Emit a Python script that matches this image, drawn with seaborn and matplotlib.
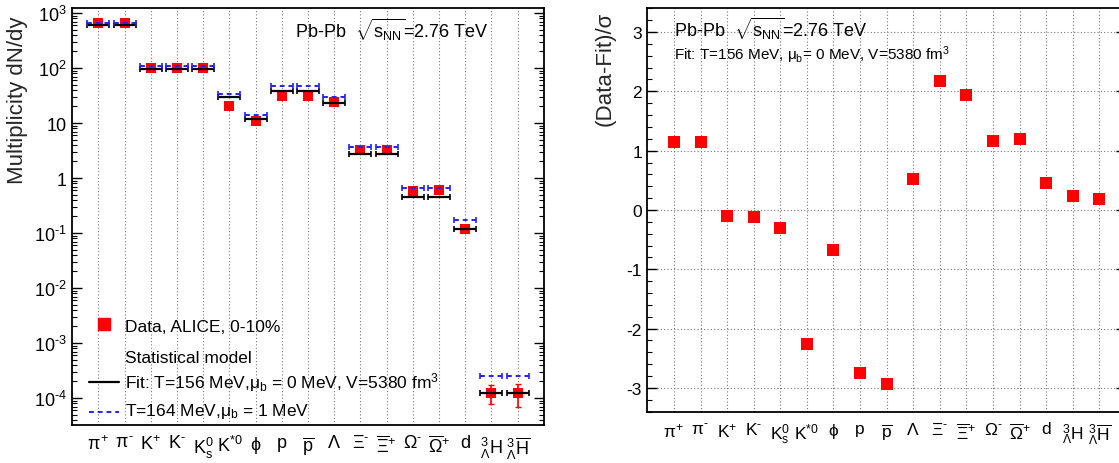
import numpy as np
import pandas as pd
import matplotlib
matplotlib.use("Agg")
import matplotlib.pyplot as plt
from matplotlib.lines import Line2D
from matplotlib.ticker import FixedLocator, FixedFormatter, LogLocator, MultipleLocator, NullFormatter
import seaborn as sns

# ---- hadron species (x categories) ----
species = [
    r"$\pi^{+}$", r"$\pi^{\text{-}}$", r"K$^{+}$", r"K$^{\text{-}}$", r"K$^{0}_{s}$",
    r"K$^{*0}$", r"$\phi$", "p", r"$\overline{\mathrm{p}}$", r"$\Lambda$",
    r"$\Xi^{\text{-}}$", r"$\overline{\Xi}^{+}$", r"$\Omega^{\text{-}}$",
    r"$\overline{\Omega}^{+}$", "d",
    r"${}^{3}_{\Lambda}$H", r"${}^{3}_{\Lambda}\overline{\mathrm{H}}$",
]

# ---- measured yields dN/dy (ALICE, 0-10%) ----
data_yield = [670, 670, 100, 100, 100, 20, 11, 31, 31, 24, 3.3, 3.3,
              0.59, 0.60, 0.118, 1.26e-4, 1.22e-4]
yield_err_up = [0, 0, 0, 0, 0, 0, 0, 0, 0, 0, 0, 0, 0, 0, 0, 0.49e-4, 0.58e-4]
yield_err_down = [0, 0, 0, 0, 0, 0, 0, 0, 0, 0, 0, 0, 0, 0, 0, 0.48e-4, 0.53e-4]

# ---- statistical-model yields ----
fit_t156 = [613, 613, 98, 98, 98, 29.3, 12.0, 37.7, 37.7, 22.9, 2.77, 2.77,
            0.46, 0.46, 0.116, 1.22e-4, 1.22e-4]
model_t164 = [667, 667, 110, 110, 110, 33.6, 14.0, 47.6, 47.6, 29.3, 3.61, 3.61,
              0.67, 0.67, 0.172, 2.48e-4, 2.48e-4]

# ---- deviation (Data-Fit)/sigma ----
deviation = [1.15, 1.14, -0.10, -0.12, -0.30, -2.26, -0.67, -2.74, -2.93, 0.53,
             2.18, 1.94, 1.16, 1.19, 0.45, 0.24, 0.19]

decade_labels = [r"$10^{\text{-}4}$", r"$10^{\text{-}3}$", r"$10^{\text{-}2}$",
                 r"$10^{\text{-}1}$", "1", "10", r"$10^{2}$", r"$10^{3}$"]

sns.set_style("ticks")
plt.rcParams.update({
    "font.family": ["Liberation Sans", "DejaVu Sans"],
    "mathtext.fontset": "custom",
    "mathtext.rm": "Liberation Sans",
    "mathtext.it": "Liberation Sans",
    "mathtext.sf": "Liberation Sans",
    "mathtext.bf": "Liberation Sans:bold",
    "axes.unicode_minus": False,
    "axes.edgecolor": "black",
    "axes.linewidth": 1.3,
    "xtick.color": "black",
    "ytick.color": "black",
    "text.color": "black",
})

x = np.arange(1, len(species) + 1)
df = pd.DataFrame({"x": x, "yield": data_yield, "dev": deviation})

fig = plt.figure(figsize=(11.19, 4.64), dpi=100)
axL = fig.add_axes([0.0646, 0.0825, 0.4214, 0.898])
axR = fig.add_axes([0.5786, 0.1106, 0.4275, 0.8694])

grid_kw = dict(color="#777777", linestyle=(0, (1, 2)), linewidth=0.8)
half_w = 0.42
blue = "#2222ee"

# ================= left: multiplicities =================
axL.set_yscale("log")
axL.set_xlim(0, 18)
axL.set_ylim(3.27e-5, 1233)
for xi in x:
    axL.axvline(xi, zorder=0, **grid_kw)

sns.scatterplot(data=df, x="x", y="yield", marker="s", color="red", s=58,
                linewidth=0, ax=axL, zorder=2, legend=False)
axL.errorbar(x, data_yield, yerr=[yield_err_down, yield_err_up], fmt="none",
             ecolor="red", elinewidth=1.2, capsize=2, zorder=2)

axL.errorbar(x, fit_t156, xerr=half_w, fmt="none", ecolor="black",
             elinewidth=1.6, capsize=2, capthick=1.2, zorder=3)
eb2 = axL.errorbar(x, model_t164, xerr=half_w, fmt="none", ecolor=blue,
                   elinewidth=1.4, capsize=2, capthick=1.2, zorder=4)
for lc in eb2[2]:
    lc.set_linestyle((0, (2.5, 2)))

axL.yaxis.set_major_locator(FixedLocator([1e-4, 1e-3, 1e-2, 1e-1, 1, 10, 100, 1000]))
axL.yaxis.set_major_formatter(FixedFormatter(decade_labels))
axL.yaxis.set_minor_locator(LogLocator(base=10, subs=np.arange(2, 10), numticks=20))
axL.yaxis.set_minor_formatter(NullFormatter())
axL.tick_params(axis="y", which="major", direction="in", length=7, width=1,
                labelsize=13, left=True, right=True, pad=4)
axL.tick_params(axis="y", which="minor", direction="in", length=3.5, width=0.8,
                left=True, right=True)
axL.set_xticks(x)
axL.set_xticklabels(species)
axL.tick_params(axis="x", which="both", length=0, labelsize=13, pad=7)
axL.set_xlabel("")
axL.set_ylabel("Multiplicity dN/dy", fontsize=16, loc="top")
axL.yaxis.set_label_coords(-0.094, 0.983)

axL.text(0.472, 0.931, r"Pb-Pb  $\sqrt{s_{\mathrm{NN}}}$=2.76 TeV",
         transform=axL.transAxes, fontsize=13, va="baseline", ha="left")

# legend block, laid out row by row in axes coordinates
tA = axL.transAxes
axL.add_line(Line2D([0.0664], [0.2417], marker="s", color="red", ls="none",
                    markersize=8, transform=tA))
axL.add_line(Line2D([0.0354, 0.0982], [0.1018, 0.1018], color="black", lw=1.6,
                    transform=tA))
axL.add_line(Line2D([0.0354, 0.0982], [0.0312, 0.0312], color=blue, lw=1.4,
                    ls=(0, (2.5, 2)), transform=tA))
legend_rows = [
    (0.2256, "Data, ALICE, 0-10%"),
    (0.1512, "Statistical model"),
    (0.0898, r"Fit: T=156 MeV,$\mu_{\mathrm{b}}$ = 0 MeV, V=5380 fm$^{3}$"),
    (0.0240, r"T=164 MeV,$\mu_{\mathrm{b}}$ = 1 MeV"),
]
for yb, txt in legend_rows:
    axL.text(0.1117, yb, txt, transform=tA, fontsize=12.5, va="baseline", ha="left")

# ================= right: deviations =================
axR.set_xlim(0, 18)
axR.set_ylim(-3.4, 3.4)
for xi in x:
    axR.axvline(xi, zorder=0, **grid_kw)
for yi in range(-3, 4):
    axR.axhline(yi, zorder=0, **grid_kw)

sns.scatterplot(data=df, x="x", y="dev", marker="s", color="red", s=69,
                linewidth=0, ax=axR, zorder=2, legend=False)

axR.yaxis.set_major_locator(MultipleLocator(1))
axR.yaxis.set_minor_locator(MultipleLocator(0.2))
axR.tick_params(axis="y", which="major", direction="in", length=7, width=1,
                labelsize=12.5, left=True, right=True, pad=4)
axR.tick_params(axis="y", which="minor", direction="in", length=3.5, width=0.8,
                left=True, right=True)
axR.set_xticks(x)
axR.set_xticklabels(species)
axR.tick_params(axis="x", which="both", length=0, labelsize=12.5, pad=7)
axR.set_xlabel("")
axR.set_ylabel("(Data-Fit)/σ", fontsize=16, loc="top")
axR.yaxis.set_label_coords(-0.066, 0.995)

axR.text(0.0554, 0.931, r"Pb-Pb  $\sqrt{s_{\mathrm{NN}}}$=2.76 TeV",
         transform=axR.transAxes, fontsize=13, va="baseline", ha="left")
axR.text(0.0554, 0.874, r"Fit: T=156 MeV, $\mu_{\mathrm{b}}$= 0 MeV, V=5380 fm$^{3}$",
         transform=axR.transAxes, fontsize=11, va="baseline", ha="left")

fig.savefig("out.png", dpi=100)
